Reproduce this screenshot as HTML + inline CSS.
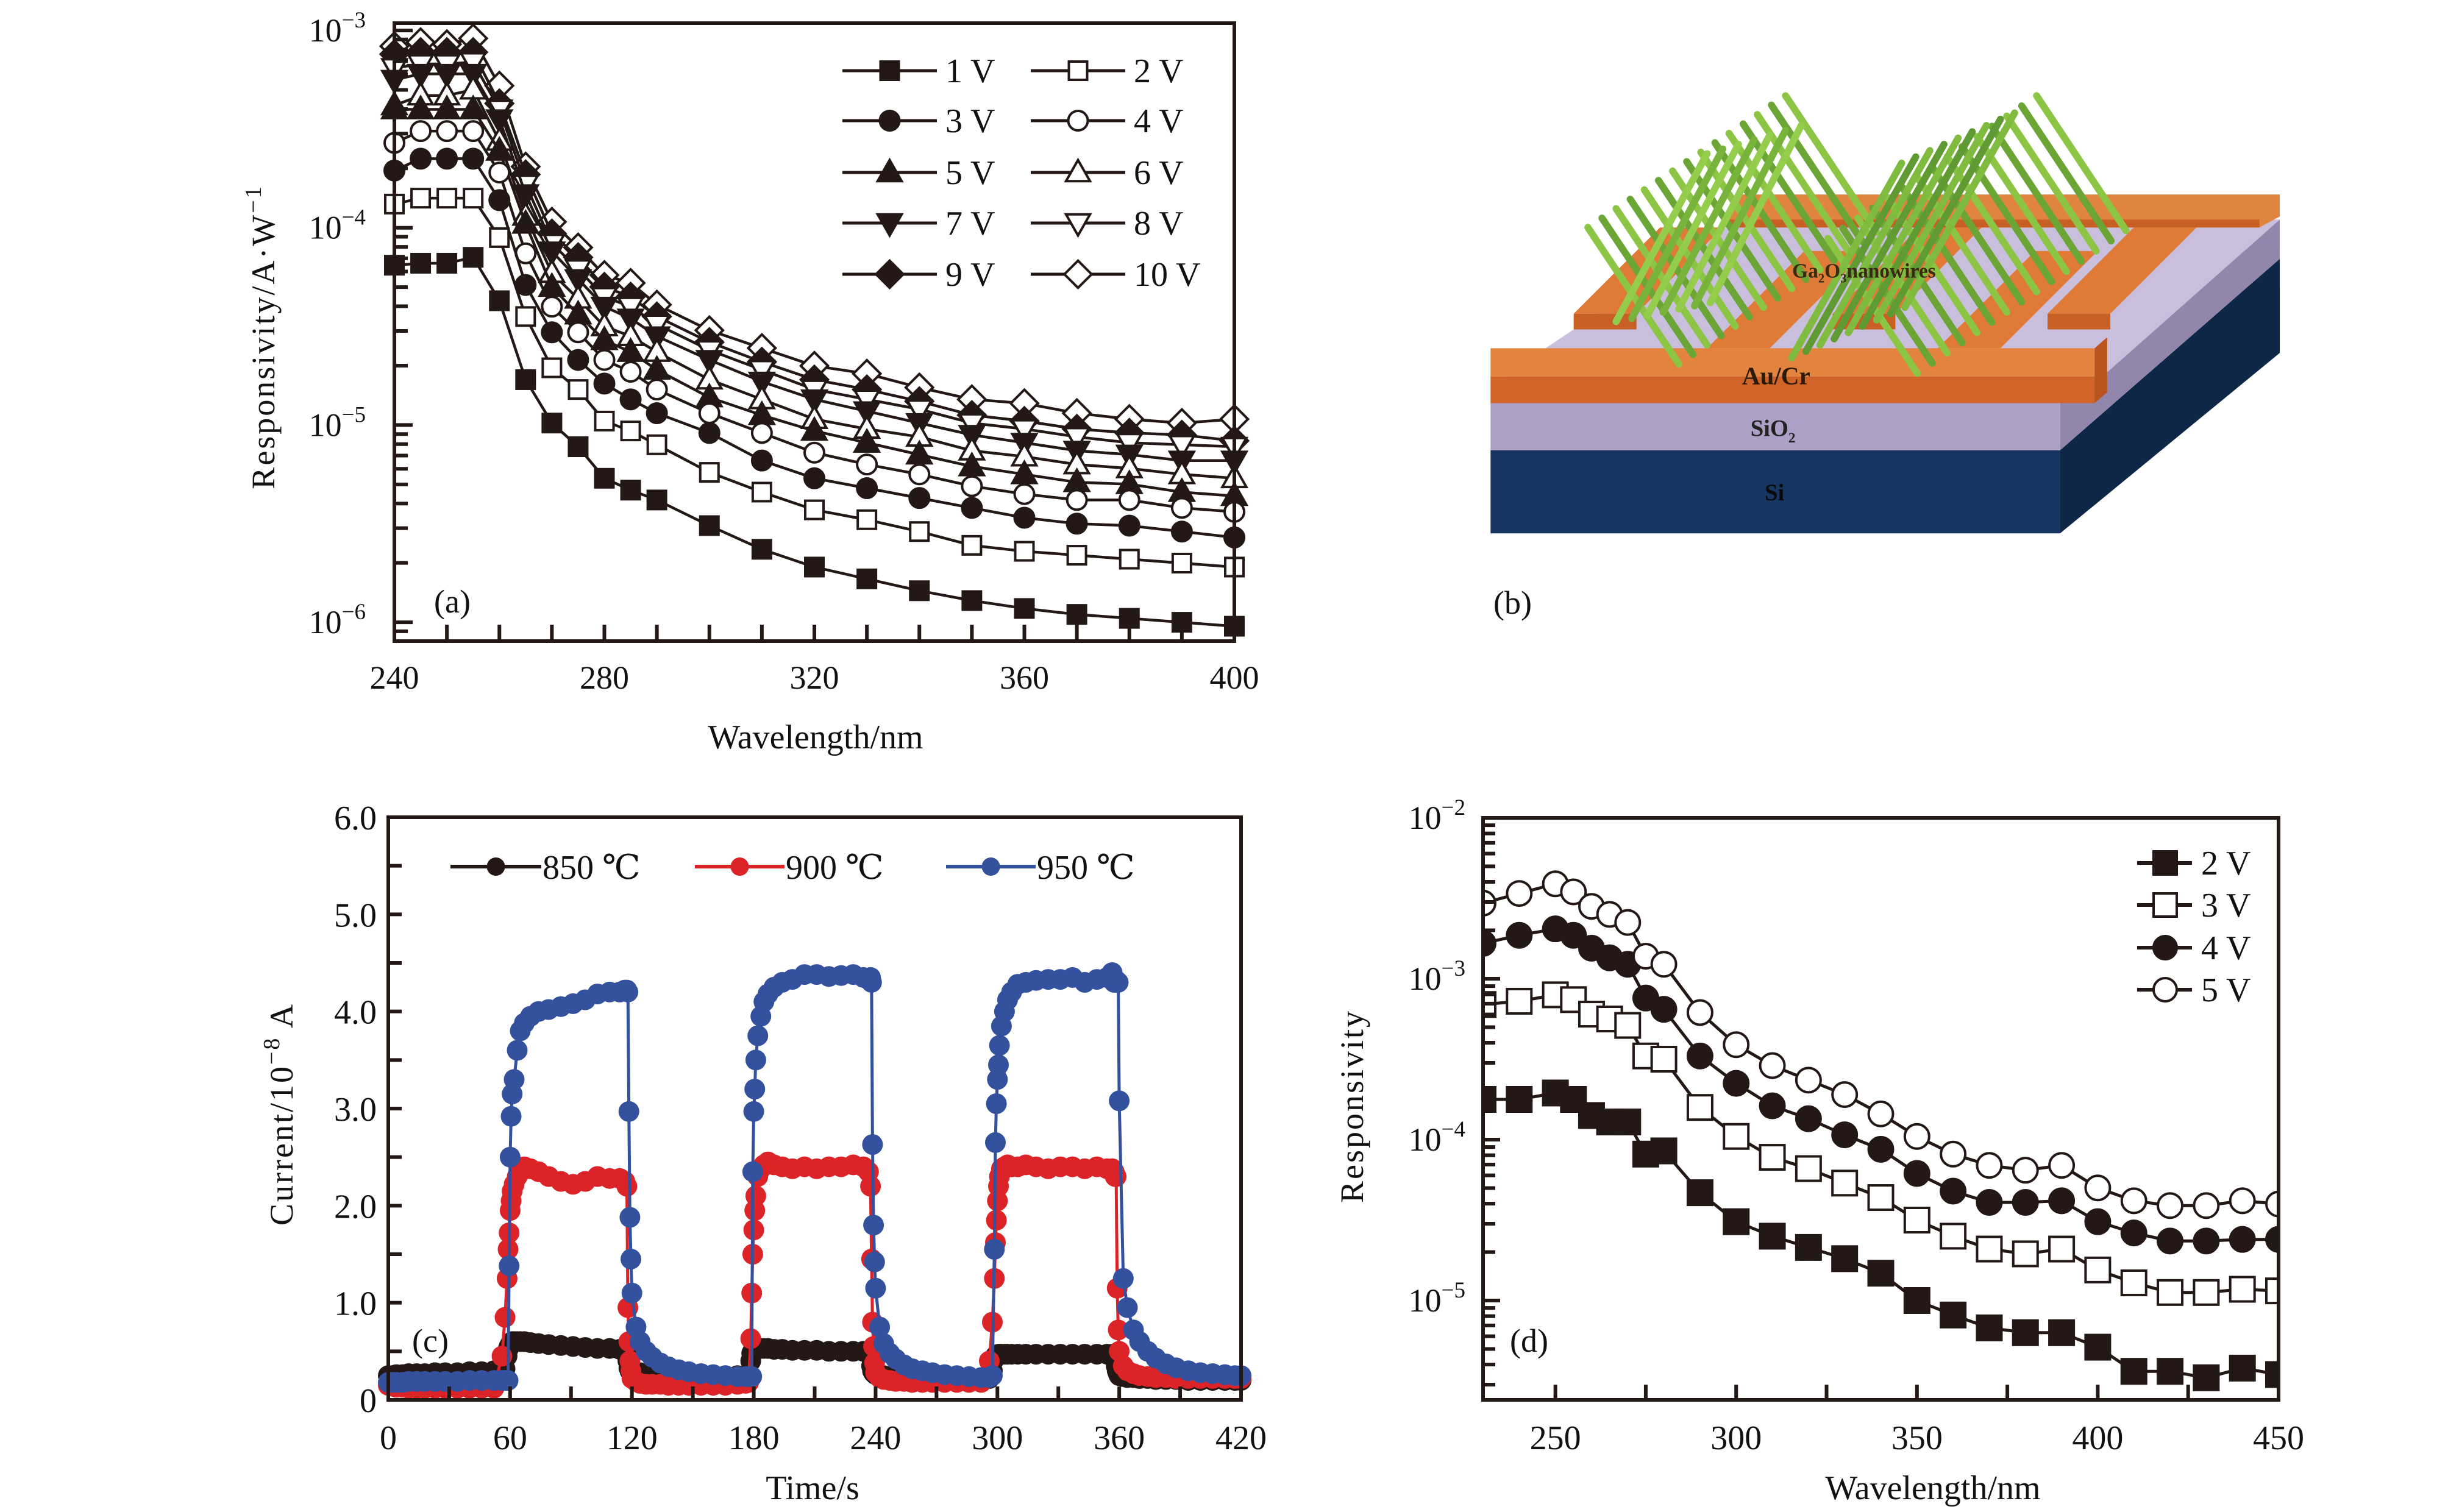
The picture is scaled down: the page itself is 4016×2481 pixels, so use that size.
<!DOCTYPE html>
<html><head><meta charset="utf-8"><title>Ga2O3 photodetector figure</title>
<style>
html,body{margin:0;padding:0;background:#fff;}
svg{display:block;font-family:"Liberation Serif","DejaVu Serif",serif;}
</style></head>
<body>
<svg id="fig" xmlns="http://www.w3.org/2000/svg" width="4016" height="2481" viewBox="0 0 4016 2481">
<rect x="0" y="0" width="4016" height="2481" fill="#fff"/>

<g id="panelA">
  <g id="aMarks"></g>
  <g id="aAxes"></g>
  <rect x="647" y="38" width="1378" height="1014" fill="none" stroke="#231815" stroke-width="6"/>
  <text x="1338" y="1228" font-size="56" text-anchor="middle" fill="#111">Wavelength/nm</text>
  <text transform="translate(450,553) rotate(-90)" font-size="54" letter-spacing="3" text-anchor="middle" fill="#111">Responsivity/A·W<tspan font-size="38" dy="-22">−1</tspan></text>
  <text x="712" y="1005" font-size="54" fill="#111">(a)</text>
  <g id="aLegend"></g>
</g>

<g id="panelB">
 <g transform="scale(2.574)">
  <polygon points="1313,287 1453,165 1453,225 1313,340" fill="#0e2747"/>
  <polygon points="1313,257 1453,140 1453,165 1313,287" fill="#9386ad"/>
  <rect x="950" y="287" width="363" height="53" fill="#163560"/>
  <rect x="950" y="257" width="363" height="30" fill="#ae9fc6"/>
  <polygon points="958,240 1340,240 1453,140 1108,140" fill="#c9bedb"/>
  <polygon points="1108,124 1453,124 1453,138 1440,145 1100,145" fill="#e0853f"/>
  <polygon points="1100,140 1440,140 1440,145 1100,145" fill="#c85f25"/>
  <g id="fingers">
   <polygon points="1003,200 1043,200 1098,145 1058,145" fill="#df7b37"/>
   <polygon points="1003,200 1043,200 1043,210 1003,210" fill="#c85f25"/>
   <polygon points="1088,222 1128,222 1190,160 1150,160" fill="#df7b37"/>
   <polygon points="1168,200 1208,200 1263,145 1223,145" fill="#df7b37"/>
   <polygon points="1168,200 1208,200 1208,210 1168,210" fill="#c85f25"/>
   <polygon points="1235,222 1275,222 1337,160 1297,160" fill="#df7b37"/>
   <polygon points="1305,200 1345,200 1400,145 1360,145" fill="#df7b37"/>
   <polygon points="1305,200 1345,200 1345,210 1305,210" fill="#c85f25"/>
  </g>
  <rect x="950" y="222" width="385" height="18" fill="#e2843d"/>
  <rect x="950" y="240" width="385" height="17" fill="#d2642a"/>
  <polygon points="1335,222 1343,215 1343,250 1335,257" fill="#b9541f"/>
  <g id="wires" stroke-linecap="round"></g>
  <text x="1188" y="177" font-size="13" font-weight="bold" text-anchor="middle" fill="#3a2a10">Ga<tspan font-size="8" dy="3">2</tspan><tspan dy="-3">O</tspan><tspan font-size="8" dy="3">3</tspan><tspan dy="-3">nanowires</tspan></text>
  <text x="1132" y="245" font-size="16" font-weight="bold" text-anchor="middle" fill="#2a1a08">Au/Cr</text>
  <text x="1130" y="278" font-size="15" font-weight="bold" text-anchor="middle" fill="#222">SiO<tspan font-size="9" dy="4">2</tspan></text>
  <text x="1131" y="319" font-size="15" font-weight="bold" text-anchor="middle" fill="#0a0a0a">Si</text>
 </g>
 <text x="2450" y="1007" font-size="54" fill="#111">(b)</text>
</g>

<g id="panelC">
  <g id="cMarks"></g>
  <g id="cAxes"></g>
  <rect x="637" y="1341" width="1399" height="956" fill="none" stroke="#231815" stroke-width="6"/>
  <text x="1333" y="2460" font-size="56" text-anchor="middle" fill="#111">Time/s</text>
  <text transform="translate(480,1828) rotate(-90)" font-size="54" letter-spacing="3" text-anchor="middle" fill="#111">Current/10<tspan font-size="38" dy="-22">−8</tspan><tspan dy="22"> A</tspan></text>
  <text x="676" y="2218" font-size="54" fill="#111">(c)</text>
  <g id="cLegend"></g>
</g>

<g id="panelD">
  <g id="dMarks"></g>
  <g id="dAxes"></g>
  <rect x="2433" y="1342" width="1305" height="955" fill="none" stroke="#231815" stroke-width="6"/>
  <text x="3171" y="2460" font-size="56" text-anchor="middle" fill="#111">Wavelength/nm</text>
  <text transform="translate(2236,1815) rotate(-90)" font-size="54" letter-spacing="3" text-anchor="middle" fill="#111">Responsivity</text>
  <text x="2477" y="2218" font-size="54" fill="#111">(d)</text>
  <g id="dLegend"></g>
</g>
</svg>

<script>
const aWavelengths = [240,245,250,255,260,265,270,275,280,285,290,300,310,320,330,340,350,360,370,380,390,400];
const aLabels = ["1 V","2 V","3 V","4 V","5 V","6 V","7 V","8 V","9 V","10 V"];
const aLog1V  = [-4.19,-4.18,-4.18,-4.15,-4.37,-4.77,-4.99,-5.11,-5.27,-5.33,-5.38,-5.51,-5.63,-5.72,-5.78,-5.84,-5.89,-5.93,-5.96,-5.98,-6.00,-6.02];
const aLog2V  = [-3.88,-3.85,-3.85,-3.85,-4.05,-4.45,-4.71,-4.82,-4.98,-5.03,-5.10,-5.24,-5.34,-5.43,-5.48,-5.54,-5.61,-5.64,-5.66,-5.68,-5.70,-5.72];
const aLog3V  = [-3.71,-3.65,-3.65,-3.65,-3.86,-4.29,-4.53,-4.67,-4.79,-4.87,-4.94,-5.04,-5.18,-5.27,-5.32,-5.37,-5.42,-5.47,-5.50,-5.51,-5.54,-5.57];
const aLog4V  = [-3.57,-3.51,-3.51,-3.51,-3.72,-4.13,-4.40,-4.53,-4.67,-4.73,-4.82,-4.94,-5.04,-5.14,-5.20,-5.25,-5.31,-5.35,-5.38,-5.38,-5.42,-5.44];
const aLog5V  = [-3.40,-3.40,-3.40,-3.40,-3.61,-3.98,-4.30,-4.44,-4.57,-4.63,-4.72,-4.86,-4.95,-5.03,-5.09,-5.15,-5.21,-5.25,-5.29,-5.30,-5.34,-5.36];
const aLog6V  = [-3.38,-3.33,-3.33,-3.30,-3.56,-3.94,-4.23,-4.36,-4.50,-4.55,-4.63,-4.77,-4.87,-4.97,-5.02,-5.06,-5.13,-5.16,-5.20,-5.22,-5.25,-5.27];
const aLog7V  = [-3.25,-3.22,-3.22,-3.22,-3.45,-3.83,-4.12,-4.26,-4.40,-4.46,-4.55,-4.67,-4.78,-4.87,-4.93,-4.99,-5.05,-5.09,-5.13,-5.15,-5.18,-5.18];
const aLog8V  = [-3.19,-3.17,-3.17,-3.16,-3.40,-3.78,-4.08,-4.21,-4.35,-4.40,-4.49,-4.62,-4.72,-4.82,-4.87,-4.92,-4.99,-5.02,-5.06,-5.09,-5.10,-5.11];
const aLog9V  = [-3.12,-3.11,-3.11,-3.11,-3.37,-3.73,-4.03,-4.15,-4.30,-4.35,-4.45,-4.58,-4.68,-4.77,-4.82,-4.88,-4.95,-4.98,-5.02,-5.04,-5.05,-5.08];
const aLog10V = [-3.08,-3.06,-3.07,-3.04,-3.28,-3.69,-3.97,-4.10,-4.24,-4.28,-4.39,-4.52,-4.61,-4.70,-4.74,-4.81,-4.87,-4.89,-4.94,-4.97,-4.99,-4.97];
const aXTicks = [240,280,320,360,400];
const aYDecades = [-3,-4,-5,-6];

const cPeriodStarts = [0,120,240];
const cTimeTemplate = [0,2,4,7,10,14,18,23,28,34,40,46,52,56,57.5,58.5,59,59.5,60,60.5,61,62,63.5,65,67,70,74,79,85,91,97,103,109,114,116.5,117.5,118,118.5,119,119.5];
const cTailTimes = [360,362,364,367,370,374,378,383,388,394,400,406,412,417,420];
const cLabels = ["850 ℃","900 ℃","950 ℃"];
const c850 = [
 0.25,0.25,0.26,0.26,0.27,0.27,0.27,0.28,0.28,0.28,0.29,0.29,0.3,0.3,0.32,0.45,0.52,0.55,0.57,0.58,0.6,0.6,0.6,0.6,0.6,0.59,0.58,0.57,0.56,0.55,0.54,0.53,0.53,0.52,0.52,0.5,0.4,0.33,0.3,0.3,
 0.29,0.28,0.28,0.27,0.27,0.27,0.26,0.26,0.26,0.25,0.25,0.25,0.25,0.25,0.26,0.4,0.48,0.5,0.52,0.53,0.53,0.53,0.53,0.53,0.53,0.52,0.52,0.51,0.51,0.51,0.5,0.5,0.5,0.5,0.5,0.45,0.35,0.3,0.28,0.27,
 0.26,0.25,0.25,0.24,0.24,0.23,0.23,0.23,0.22,0.22,0.22,0.22,0.22,0.22,0.3,0.42,0.45,0.46,0.46,0.47,0.47,0.47,0.47,0.47,0.47,0.47,0.47,0.47,0.47,0.47,0.47,0.47,0.47,0.47,0.47,0.46,0.42,0.35,0.3,0.27,
 0.25,0.24,0.23,0.23,0.22,0.22,0.21,0.21,0.21,0.2,0.2,0.2,0.2,0.2,0.2];
const c900 = [
 0.15,0.14,0.13,0.13,0.12,0.12,0.12,0.12,0.12,0.12,0.12,0.12,0.12,0.45,0.85,1.25,1.55,1.72,1.95,2.05,2.15,2.22,2.3,2.35,2.4,2.38,2.35,2.3,2.25,2.22,2.25,2.3,2.28,2.28,2.25,2.2,0.95,0.6,0.4,0.3,
 0.22,0.19,0.17,0.16,0.16,0.16,0.15,0.15,0.15,0.15,0.15,0.15,0.16,0.17,0.18,0.63,1.1,1.5,1.75,1.95,2.1,2.3,2.38,2.42,2.45,2.42,2.4,2.38,2.4,2.38,2.4,2.4,2.42,2.4,2.35,2.2,1.45,0.8,0.55,0.38,
 0.28,0.23,0.21,0.2,0.19,0.19,0.18,0.18,0.18,0.18,0.18,0.18,0.18,0.4,0.8,1.25,1.62,1.85,2.05,2.2,2.3,2.38,2.4,2.42,2.4,2.4,2.42,2.4,2.38,2.4,2.4,2.38,2.4,2.38,2.38,2.35,2.3,2.3,1.15,0.72,
 0.5,0.35,0.3,0.27,0.25,0.24,0.23,0.23,0.22,0.22,0.22,0.22,0.22,0.22,0.22];
const c950 = [
 0.18,0.18,0.18,0.18,0.19,0.19,0.19,0.19,0.19,0.19,0.2,0.2,0.2,0.2,0.2,0.2,0.2,1.38,2.5,2.92,3.15,3.3,3.6,3.8,3.88,3.95,4.0,4.02,4.05,4.08,4.12,4.18,4.2,4.2,4.22,4.22,4.2,2.97,1.88,1.45,
 1.1,0.75,0.6,0.5,0.44,0.38,0.34,0.31,0.29,0.27,0.26,0.25,0.24,0.24,0.24,0.24,0.24,2.35,2.97,3.2,3.5,3.75,3.95,4.1,4.18,4.25,4.3,4.33,4.38,4.38,4.36,4.37,4.38,4.35,4.33,4.35,4.3,2.63,1.8,1.42,
 1.15,0.75,0.58,0.48,0.42,0.36,0.32,0.3,0.28,0.26,0.25,0.24,0.23,0.23,0.25,1.55,2.65,3.05,3.3,3.45,3.65,3.85,4.0,4.12,4.2,4.28,4.3,4.32,4.33,4.33,4.35,4.3,4.33,4.35,4.4,4.3,4.3,4.32,4.3,4.3,
 3.08,1.25,0.95,0.72,0.6,0.5,0.43,0.37,0.33,0.3,0.28,0.27,0.26,0.25,0.25];
const cXTicks = [0,60,120,180,240,300,360,420];
const cYTicks = [0,1,2,3,4,5,6];
const cYTickLabels = ["0","1.0","2.0","3.0","4.0","5.0","6.0"];

const dWavelengths = [230,240,250,255,260,265,270,275,280,290,300,310,320,330,340,350,360,370,380,390,400,410,420,430,440,450];
const dLabels = ["2 V","3 V","4 V","5 V"];
const dLog2V = [-3.75,-3.75,-3.71,-3.75,-3.85,-3.89,-3.89,-4.09,-4.07,-4.33,-4.51,-4.60,-4.67,-4.74,-4.83,-5.00,-5.09,-5.17,-5.20,-5.20,-5.29,-5.44,-5.44,-5.48,-5.42,-5.46];
const dLog3V = [-3.16,-3.14,-3.10,-3.13,-3.22,-3.25,-3.29,-3.48,-3.50,-3.80,-3.98,-4.11,-4.18,-4.27,-4.36,-4.50,-4.60,-4.68,-4.71,-4.68,-4.81,-4.89,-4.95,-4.95,-4.93,-4.94];
const dLog4V = [-2.78,-2.73,-2.69,-2.73,-2.81,-2.87,-2.91,-3.12,-3.19,-3.48,-3.65,-3.79,-3.87,-3.97,-4.06,-4.21,-4.32,-4.39,-4.39,-4.38,-4.51,-4.58,-4.63,-4.63,-4.62,-4.62];
const dLog5V = [-2.53,-2.47,-2.41,-2.46,-2.55,-2.60,-2.65,-2.86,-2.91,-3.21,-3.41,-3.54,-3.63,-3.72,-3.84,-3.98,-4.09,-4.16,-4.19,-4.16,-4.30,-4.38,-4.41,-4.41,-4.38,-4.40];
const dXTicks = [250,300,350,400,450];
const dYDecades = [-2,-3,-4,-5];

const NS = 'http://www.w3.org/2000/svg';
const INK = '#231815';
function mk(tag, parent){ const e = document.createElementNS(NS, tag); parent.appendChild(e); return e; }
function attrs(e, o){ for (const k in o) e.setAttribute(k, o[k]); return e; }
function marker(parent, shape, filled, cx, cy, s, color){
  let e;
  const fill = filled ? color : '#fff';
  if (shape === 'square'){ e = mk('rect', parent); attrs(e,{x:cx-s/2,y:cy-s/2,width:s,height:s}); }
  else if (shape === 'circle'){ e = mk('circle', parent); attrs(e,{cx:cx,cy:cy,r:s/2}); }
  else if (shape === 'up'){ e = mk('polygon', parent); attrs(e,{points:`${cx},${cy-s*0.6} ${cx+s*0.58},${cy+s*0.42} ${cx-s*0.58},${cy+s*0.42}`}); }
  else if (shape === 'down'){ e = mk('polygon', parent); attrs(e,{points:`${cx},${cy+s*0.6} ${cx+s*0.58},${cy-s*0.42} ${cx-s*0.58},${cy-s*0.42}`}); }
  else { e = mk('polygon', parent); attrs(e,{points:`${cx},${cy-s*0.62} ${cx+s*0.62},${cy} ${cx},${cy+s*0.62} ${cx-s*0.62},${cy}`}); }
  attrs(e,{fill:fill, stroke:color, 'stroke-width':4});
  return e;
}
function supLabel(parent, x, y, exp, size){
  const t = mk('text', parent);
  attrs(t,{x:x, y:y, 'font-size':size, 'text-anchor':'end', fill:'#111'});
  t.textContent = '10';
  const s = mk('tspan', t);
  attrs(s,{'font-size':Math.round(size*0.68), dy:-Math.round(size*0.42)});
  s.textContent = '−' + Math.abs(exp);
  return t;
}

const xA = v => 647 + (v - 240) * (1378 / 160);
const yA = lg => 50 + (-3 - lg) * 323.7;
const aSeries = [aLog1V,aLog2V,aLog3V,aLog4V,aLog5V,aLog6V,aLog7V,aLog8V,aLog9V,aLog10V];
const aShapes = ['square','square','circle','circle','up','up','down','down','diamond','diamond'];
const aSizes = [30,30,32,32,34,34,34,34,36,36];
(function(){
  const g = document.getElementById('aMarks');
  for (let i = aSeries.length - 1; i >= 0; i--){
    const sg = mk('g', g);
    
    
    const d = aSeries[i].map((lg,j)=> (j?'L':'M') + xA(aWavelengths[j]).toFixed(1) + ',' + yA(lg).toFixed(1)).join(' ');
    const p = mk('path', sg);
    attrs(p,{d:d, fill:'none', stroke:INK, 'stroke-width':4.5});
    
    
    aSeries[i].forEach((lg,j)=>{
      const m = marker(sg, aShapes[i], i % 2 === 0, xA(aWavelengths[j]), yA(lg), aSizes[i], INK);
      
      
    });
  }
  const ax = document.getElementById('aAxes');
  for (let v = 240; v <= 400; v += 10){
    const t = mk('line', ax);
    attrs(t,{x1:xA(v), x2:xA(v), y1:1052, y2:1025, stroke:INK, 'stroke-width':6});
    
    
  }
  aXTicks.forEach(v=>{
    const t = mk('text', ax);
    attrs(t,{x:xA(v), y:1130, 'font-size':54, 'text-anchor':'middle', fill:'#111'});
    t.textContent = String(v);
    
    
  });
  for (let dec = -7; dec <= -3; dec++){
    for (let m = 1; m <= 9; m++){
      const y = yA(dec + Math.log10(m));
      if (y < 40 || y > 1050) continue;
      const t = mk('line', ax);
      attrs(t,{x1:647, x2:647 + (m === 1 ? 30 : 22), y1:y, y2:y, stroke:INK, 'stroke-width':6});
      
      
    }
  }
  aYDecades.forEach(e=>{
    const t = supLabel(ax, 600, yA(e) + 18, e, 54);
    
    
  });
  const lg = document.getElementById('aLegend');
  const rows = [116,198,283,366,450];
  aLabels.forEach((lab,i)=>{
    const col = i % 2, row = Math.floor(i / 2);
    const x0 = col ? 1691 : 1382, x1 = col ? 1846 : 1537, y = rows[row];
    const it = mk('g', lg);
    
    
    const l = mk('line', it);
    attrs(l,{x1:x0, x2:x1, y1:y, y2:y, stroke:INK, 'stroke-width':5});
    marker(it, aShapes[i], i % 2 === 0, (x0 + x1) / 2, y, aSizes[i], INK);
    const t = mk('text', it);
    attrs(t,{x:x1 + 14, y:y + 19, 'font-size':56, fill:'#111'});
    t.textContent = lab;
  });
})();

(function(){
  const g = document.getElementById('wires');
  function wire(x1,y1,x2,y2,c){
    const l = mk('line', g);
    attrs(l,{x1:x1,y1:y1,x2:x2,y2:y2,stroke:c,'stroke-width':4.5});
  }
  for (let k = 0; k < 15; k++){ wire(1012+9*k, 145-6*k, 1070+9*k, 232-6*k, k%2 ? '#6aa536' : '#8cc443'); }
  for (let k = 0; k < 15; k++){ wire(1165+9.5*k, 152-6.5*k, 1222+9.5*k, 238-6.5*k, k%2 ? '#6aa536' : '#8cc443'); }
  for (let k = 0; k < 9; k++){ wire(1142+9*k, 228-4*k, 1212+9*k, 104-4*k, k%2 ? '#5f9a32' : '#7fbb3e'); }
  for (let k = 0; k < 7; k++){ wire(1030+10*k, 205-2*k, 1088+10*k, 98-3*k, k%2 ? '#78b43c' : '#94cc4c'); }
})();

const xC = t => 637 + t * (1399 / 420);
const yC = v => 2297 - v * (956 / 6);
const cTimes = [];
cPeriodStarts.forEach(p => cTimeTemplate.forEach(t => cTimes.push(p + t)));
cTailTimes.forEach(t => cTimes.push(t));
const cSeries = [c850, c900, c950];
const cColors = ['#231815','#dc2328','#34519e'];
(function(){
  const g = document.getElementById('cMarks');
  cSeries.forEach((vals,i)=>{
    const sg = mk('g', g);
    
    
    const d = vals.map((v,j)=> (j?'L':'M') + xC(cTimes[j]).toFixed(1) + ',' + yC(v).toFixed(1)).join(' ');
    const p = mk('path', sg);
    attrs(p,{d:d, fill:'none', stroke:cColors[i], 'stroke-width':5});
    
    
    vals.forEach((v,j)=>{
      const c = mk('circle', sg);
      attrs(c,{cx:xC(cTimes[j]).toFixed(1), cy:yC(v).toFixed(1), r:17, fill:cColors[i]});
      
      
    });
  });
  const ax = document.getElementById('cAxes');
  for (let t = 0; t <= 420; t += 30){
    const l = mk('line', ax);
    attrs(l,{x1:xC(t), x2:xC(t), y1:2297, y2:2275, stroke:INK, 'stroke-width':6});
    
    
  }
  cXTicks.forEach(t=>{
    const tx = mk('text', ax);
    attrs(tx,{x:xC(t), y:2378, 'font-size':56, 'text-anchor':'middle', fill:'#111'});
    tx.textContent = String(t);
    
    
  });
  for (let v = 0; v <= 6; v += 0.5){
    const l = mk('line', ax);
    attrs(l,{x1:637, x2:659, y1:yC(v), y2:yC(v), stroke:INK, 'stroke-width':6});
    
    
  }
  cYTicks.forEach((v,i)=>{
    const tx = mk('text', ax);
    attrs(tx,{x:618, y:yC(v) + 20, 'font-size':56, 'text-anchor':'end', fill:'#111'});
    tx.textContent = cYTickLabels[i];
    
    
  });
  const lg = document.getElementById('cLegend');
  const lx = [[739,888],[1140,1287],[1552,1699]];
  cLabels.forEach((lab,i)=>{
    const it = mk('g', lg);
    
    
    const l = mk('line', it);
    attrs(l,{x1:lx[i][0], x2:lx[i][1], y1:1422, y2:1422, stroke:cColors[i], 'stroke-width':6});
    const c = mk('circle', it);
    attrs(c,{cx:(lx[i][0]+lx[i][1])/2, cy:1422, r:15, fill:cColors[i]});
    const t = mk('text', it);
    attrs(t,{x:lx[i][1] + 2, y:1442, 'font-size':56, fill:'#111'});
    t.textContent = lab;
  });
})();

const xD = v => 2433 + (v - 230) * (1305 / 220);
const yD = lg => 1342 + (-2 - lg) * 264;
const dSeries = [dLog2V, dLog3V, dLog4V, dLog5V];
const dShapes = ['square','square','circle','circle'];
(function(){
  const g = document.getElementById('dMarks');
  const clip = mk('clipPath', document.getElementById('fig'));
  clip.setAttribute('id','dClip');
  const cr = mk('rect', clip);
  attrs(cr,{x:2433,y:1300,width:1305,height:1000});
  g.setAttribute('clip-path','url(#dClip)');
  dSeries.forEach((vals,i)=>{
    const sg = mk('g', g);
    
    
    const d = vals.map((lg,j)=> (j?'L':'M') + xD(dWavelengths[j]).toFixed(1) + ',' + yD(lg).toFixed(1)).join(' ');
    const p = mk('path', sg);
    attrs(p,{d:d, fill:'none', stroke:INK, 'stroke-width':5});
    
    
    vals.forEach((lg,j)=>{
      const m = marker(sg, dShapes[i], i % 2 === 0, xD(dWavelengths[j]), yD(lg), 40, INK);
      
      
    });
  });
  const ax = document.getElementById('dAxes');
  for (let v = 250; v <= 450; v += 25){
    const l = mk('line', ax);
    attrs(l,{x1:xD(v), x2:xD(v), y1:2297, y2:2272, stroke:INK, 'stroke-width':6});
    
    
  }
  dXTicks.forEach(v=>{
    const tx = mk('text', ax);
    attrs(tx,{x:xD(v), y:2378, 'font-size':56, 'text-anchor':'middle', fill:'#111'});
    tx.textContent = String(v);
    
    
  });
  for (let dec = -6; dec <= -2; dec++){
    for (let m = 1; m <= 9; m++){
      const y = yD(dec + Math.log10(m));
      if (y < 1340 || y > 2295) continue;
      const l = mk('line', ax);
      attrs(l,{x1:2433, x2:2433 + (m === 1 ? 28 : 20), y1:y, y2:y, stroke:INK, 'stroke-width':6});
      
      
    }
  }
  dYDecades.forEach(e=>{
    const t = supLabel(ax, 2404, yD(e) + 18, e, 54);
    
    
  });
  const lg = document.getElementById('dLegend');
  const rows = [1416,1485,1555,1624];
  dLabels.forEach((lab,i)=>{
    const it = mk('g', lg);
    
    
    const l = mk('line', it);
    attrs(l,{x1:3506, x2:3596, y1:rows[i], y2:rows[i], stroke:INK, 'stroke-width':6});
    marker(it, dShapes[i], i % 2 === 0, 3552, rows[i], 38, INK);
    const t = mk('text', it);
    attrs(t,{x:3611, y:rows[i] + 19, 'font-size':56, fill:'#111'});
    t.textContent = lab;
  });
})();
</script>
</body></html>
